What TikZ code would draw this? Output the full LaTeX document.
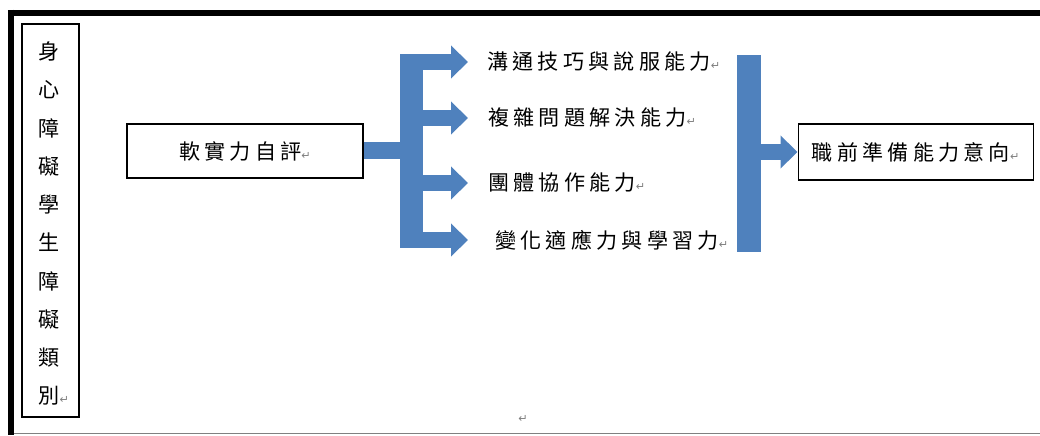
\documentclass[tikz,border=0pt]{standalone}
\usepackage{fontspec}
\newfontfamily\cjk[LetterSpace=20]{Noto Sans CJK TC}
\newfontfamily\symfont{DejaVu Sans}
\definecolor{barblue}{RGB}{79, 129, 189}
\newcommand{\pmark}{{\symfont\fontsize{8}{8}\selectfont\color{gray}↵}}
\usetikzlibrary{arrows.meta, positioning, calc}

\tikzset{
  textbox/.style={draw, line width=0.8pt, inner sep=0pt, font=\cjk\fontsize{15}{18}\selectfont},
  skilltext/.style={anchor=west, inner sep=0pt, font=\cjk\fontsize{15}{18}\selectfont},
  bluebar/.style={fill=barblue, draw=none, inner sep=0pt},
  blockarrow/.style={barblue, line width=0.4cm, -{Triangle[width=0.8cm, length=0.425cm]}},
  bluelink/.style={barblue, line width=0.425cm},
}

\begin{document}
\begin{tikzpicture}
  \useasboundingbox (0, 0) rectangle (26, 10.875);

  % Frame
  \draw[line width=0.15cm] (0.2, 10.56) -- (26, 10.56);
  \draw[line width=0.15cm] (0.275, 10.635) -- (0.275, 0);
  \draw[gray, line width=0.6pt] (0.35, 0.05) -- (26, 0.05);

  % Boxes
  \node[textbox, minimum width=1.425cm, minimum height=9.825cm] (cat) at (1.2625, 5.3625) {};
  \node[align=center, inner sep=0pt, font=\cjk\fontsize{15}{27.2}\selectfont] (cattext) at (1.23, 5.28)
        {身\\心\\障\\礙\\學\\生\\障\\礙\\類\\別\rlap{\pmark}};
  \node[textbox, minimum width=5.9cm, minimum height=1.35cm] (eval) at (6.125, 7.1) {軟實力自評\pmark};
  \node[textbox, minimum width=5.875cm, minimum height=1.4cm] (prep) at (22.89, 7.075) {職前準備能力意向\pmark};

  % Skills
  \node[skilltext] (s1) at (12.175, 9.325) {溝通技巧與說服能力\pmark};
  \node[skilltext] (s2) at (12.2, 7.925) {複雜問題解決能力\pmark};
  \node[skilltext] (s3) at (12.2, 6.3) {團體協作能力\pmark};
  \node[skilltext] (s4) at (12.375, 4.875) {變化適應力與學習力\pmark};

  % Blue bars
  \node[bluebar, minimum width=0.575cm, minimum height=4.85cm] (lbar) at (10.2875, 7.1) {};
  \node[bluebar, minimum width=0.6cm, minimum height=4.925cm] (rbar) at (18.725, 7.04) {};
  \coordinate (tips) at (11.7, 7.1);

  % Arrows
  \draw[bluelink] (eval.east) -- (lbar.center |- eval.east);
  \foreach \s in {s1, s2, s3, s4}
    \draw[blockarrow] (lbar.center |- \s.west) -- (\s.west -| tips);
  \draw[blockarrow] (rbar.center |- prep.west) -- (prep.west);

  \node[inner sep=0pt] (endmark) at (13.075, 0.4) {\pmark};
\end{tikzpicture}
\end{document}
